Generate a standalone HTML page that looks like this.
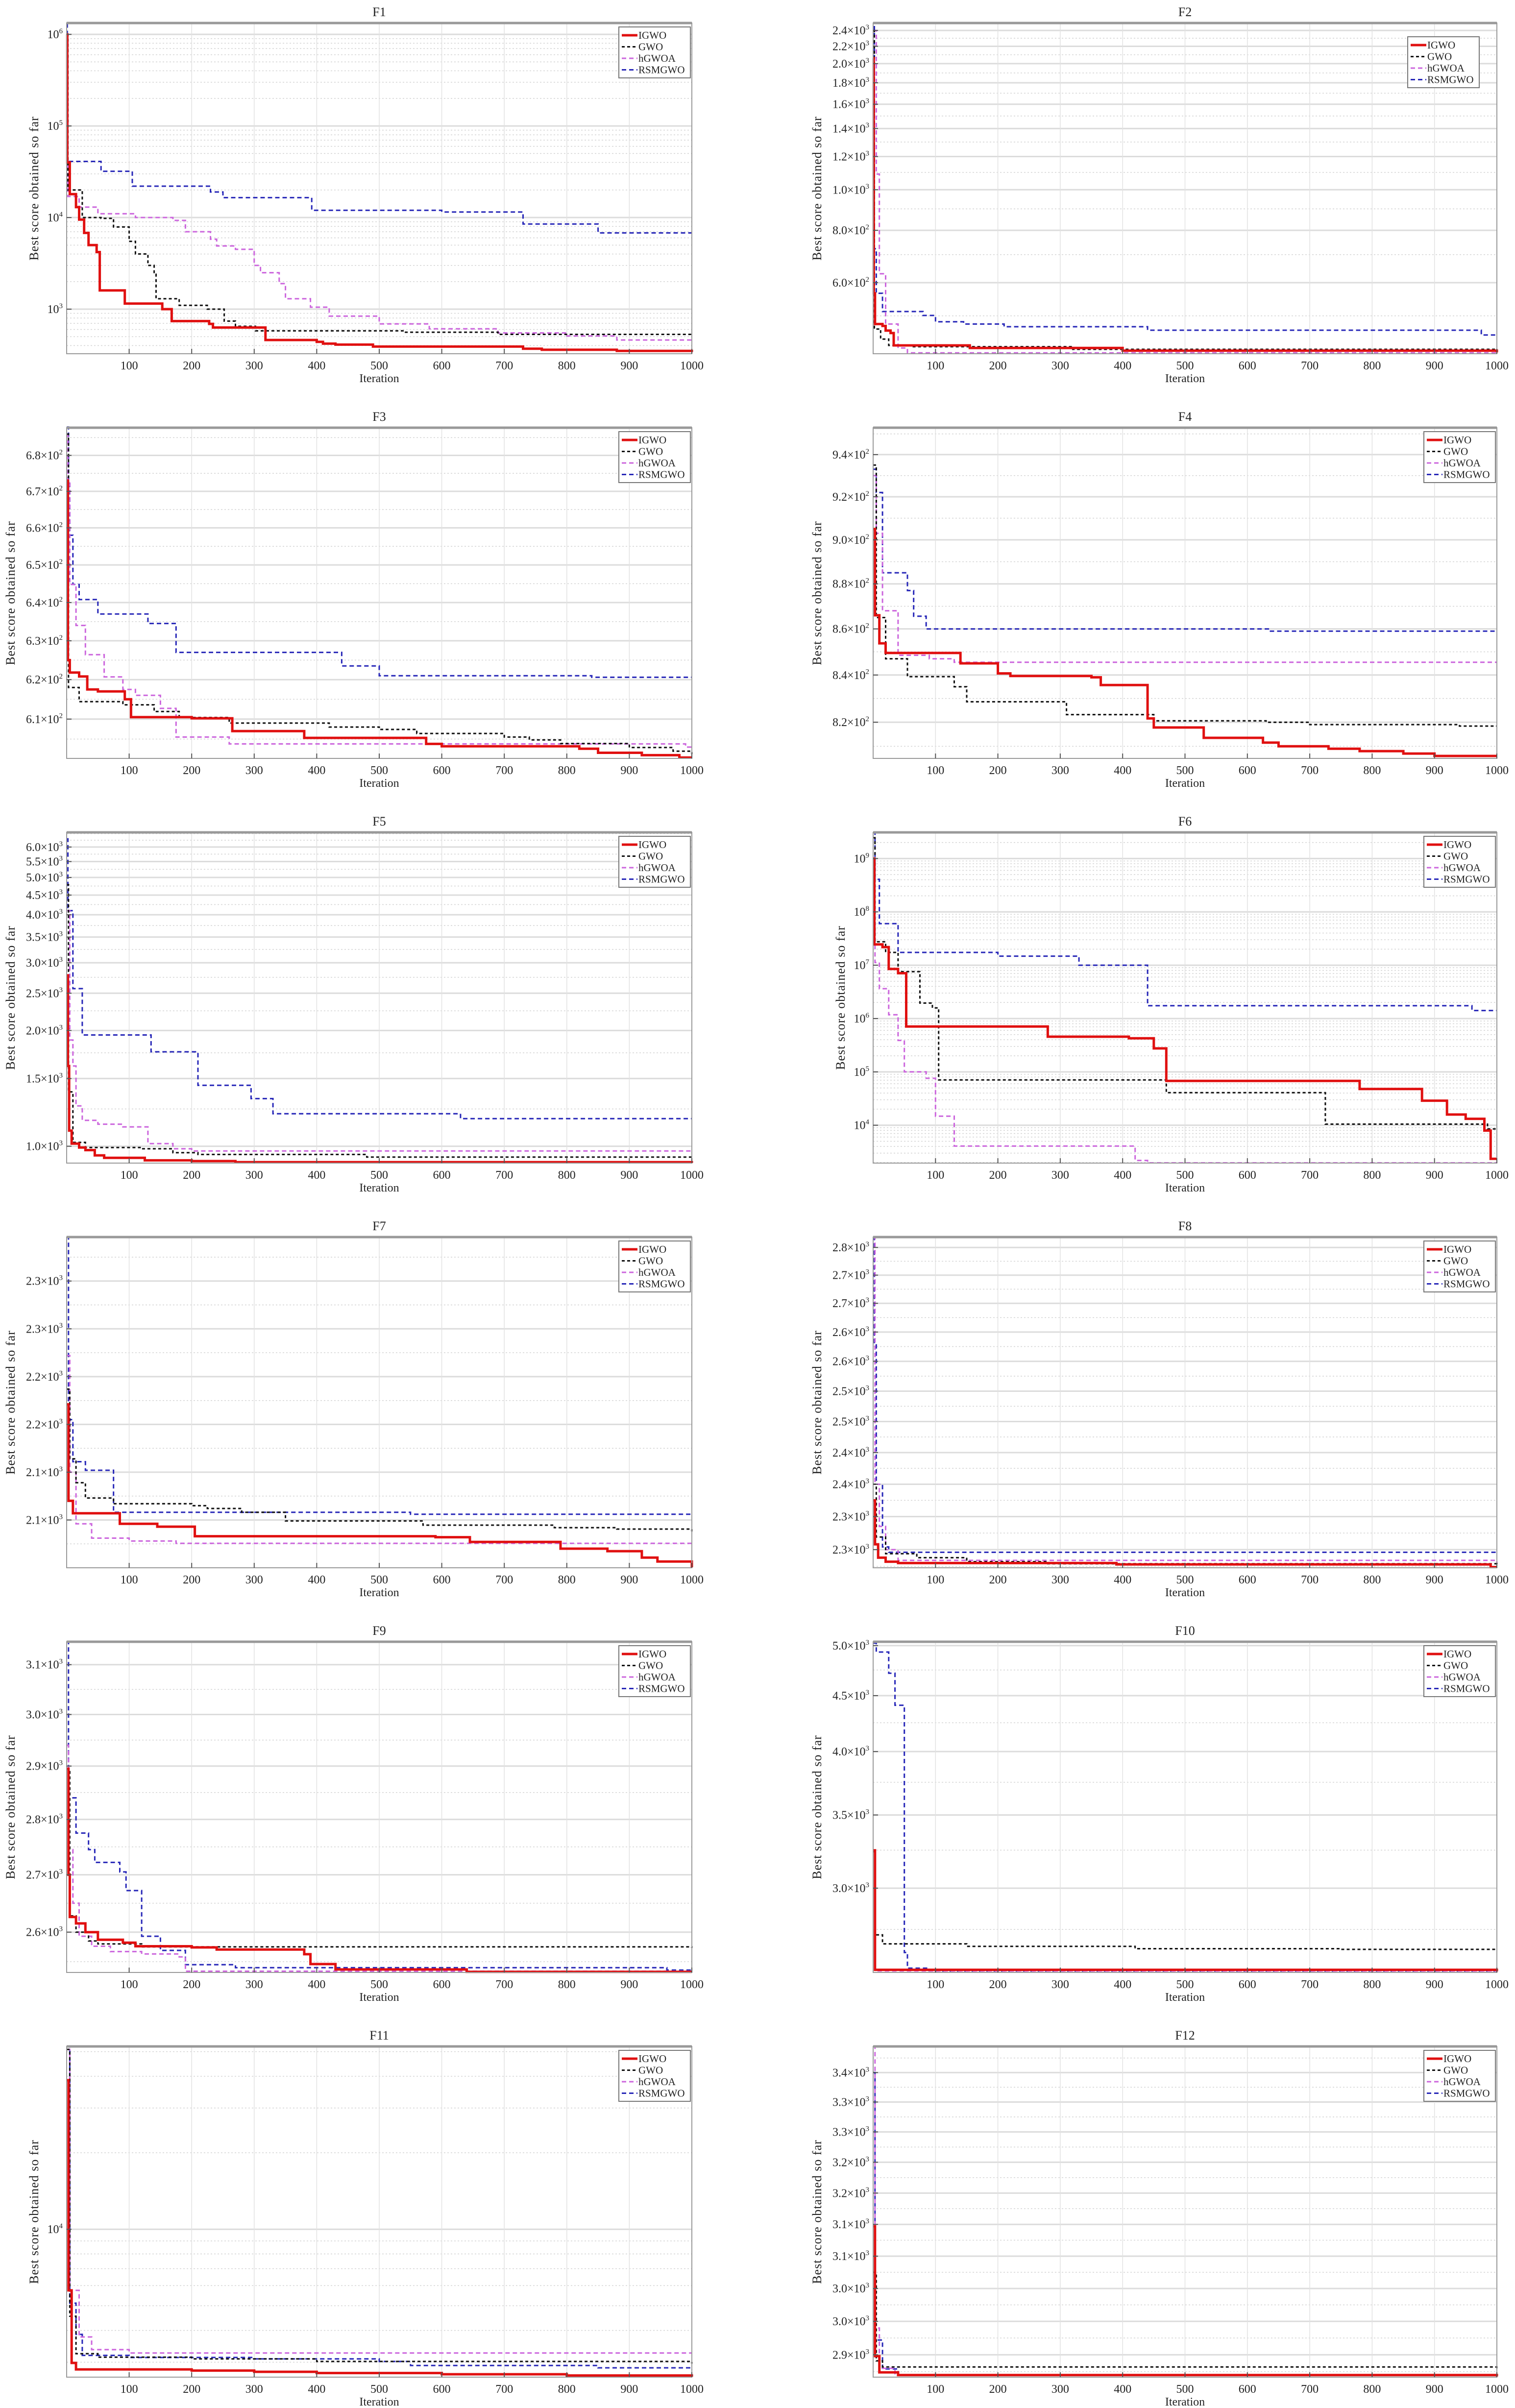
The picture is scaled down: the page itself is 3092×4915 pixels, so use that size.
<!DOCTYPE html>
<html><head><meta charset="utf-8">
<style>
html,body{margin:0;padding:0;background:#fff;}
svg{display:block;}
text{font-family:"Liberation Serif",serif;fill:#222;}
</style></head>
<body>
<svg id="fig" width="3092" height="4915" viewBox="0 0 3092 4915" xmlns="http://www.w3.org/2000/svg">
<rect width="3092" height="4915" fill="#fff"/>
</svg>
<script>
// ===== DATA =====
const seriesNames = ["IGWO","GWO","hGWOA","RSMGWO"];
const xTicks = [100,200,300,400,500,600,700,800,900,1000];

// F1
const f1Ticks = [1e3,1e4,1e5,1e6];
const f1Labels = ["10^3","10^4","10^5","10^6"];
const f1Domain = [326,1.33e6];
const f1IGWO = [[0,1e6],[1,4e4],[5,1.8e4],[15,1.3e4],[20,9.5e3],[28,6.8e3],[35,5e3],[48,4.2e3],[53,1.6e3],[93,1.15e3],[153,1.0e3],[168,740],[228,690],[234,630],[318,460],[400,440],[410,420],[430,410],[490,390],[730,370],[760,360],[880,350],[1000,340]];
const f1GWO = [[0,1e6],[2,2e4],[25,1e4],[55,9.8e3],[75,7.9e3],[100,5.5e3],[110,4e3],[130,3e3],[140,2.4e3],[143,1.3e3],[180,1.1e3],[225,1e3],[252,740],[270,650],[302,580],[540,560],[690,530],[1000,510]];
const f1HGWOA = [[0,1e6],[2,1.7e4],[20,1.3e4],[50,1.1e4],[110,1e4],[170,9.3e3],[190,7e3],[230,5.8e3],[240,4.9e3],[270,4.5e3],[300,3e3],[310,2.5e3],[340,1.9e3],[350,1.3e3],[390,1.05e3],[420,840],[500,690],[580,610],[690,550],[800,510],[880,460],[1000,440]];
const f1RSMGWO = [[0,1.3e6],[1,4.1e4],[55,3.2e4],[105,2.2e4],[230,1.9e4],[250,1.65e4],[392,1.2e4],[600,1.15e4],[730,8.5e3],[850,6.8e3],[1000,6.8e3]];

// F2
const f2Ticks = [600,800,1000,1200,1400,1600,1800,2000,2200,2400];
const f2Labels = ["6.0×10^2","8.0×10^2","1.0×10^3","1.2×10^3","1.4×10^3","1.6×10^3","1.8×10^3","2.0×10^3","2.2×10^3","2.4×10^3"];
const f2Domain = [406,2500];
const f2IGWO = [[0,2060],[1,566],[3,478],[15,473],[20,461],[28,455],[33,425],[155,419],[400,413],[1000,409]];
const f2GWO = [[0,2400],[2,465],[12,440],[25,425],[60,422],[320,416],[1000,412]];
const f2HGWOA = [[0,2400],[5,1090],[10,630],[20,478],[40,419],[55,408],[1000,408]];
const f2RSMGWO = [[0,2450],[2,723],[5,566],[15,512],[80,501],[100,484],[145,478],[210,471],[440,462],[975,450],[1000,450]];

// F3
const f3Ticks = [610,620,630,640,650,660,670,680];
const f3Labels = ["6.1×10^2","6.2×10^2","6.3×10^2","6.4×10^2","6.5×10^2","6.6×10^2","6.7×10^2","6.8×10^2"];
const f3Domain = [600.2,687.8];
const f3IGWO = [[0,673],[2,625],[5,621.8],[20,620.8],[33,617.5],[50,617],[93,615],[103,610.5],[200,610.2],[265,607],[380,605.3],[575,603.8],[600,603.2],[820,602.6],[850,601.6],[920,601],[980,600.4],[1000,600.4]];
const f3GWO = [[0,686],[3,618],[20,614.4],[90,613.6],[140,611.9],[180,610.4],[260,609],[420,608],[500,607.4],[560,606.4],[700,605.5],[740,604.8],[790,603.9],[900,602.9],[970,602],[1000,601.3]];
const f3HGWOA = [[0,686],[2,673],[5,644.8],[15,634],[30,626.4],[60,620.7],[90,617.5],[110,616],[150,612.7],[175,605.5],[260,603.8],[990,603],[1000,603]];
const f3RSMGWO = [[0,688],[3,673],[5,658],[10,644.8],[20,640.8],[50,637],[130,634.5],[175,627],[440,623.5],[500,621],[840,620.6],[1000,620.6]];

// F4
const f4Ticks = [820,840,860,880,900,920,940];
const f4Labels = ["8.2×10^2","8.4×10^2","8.6×10^2","8.8×10^2","9.0×10^2","9.2×10^2","9.4×10^2"];
const f4Domain = [805,953];
const f4IGWO = [[0,905],[3,866],[10,853.7],[20,849.5],[140,845],[200,840.7],[220,839.6],[350,839],[365,835.7],[440,821.6],[450,817.8],[530,813.5],[625,811.5],[650,810],[730,809],[780,808],[850,807],[900,806],[1000,806]];
const f4GWO = [[0,935],[5,865],[20,847],[55,839.3],[130,835],[150,828.6],[310,823.2],[450,820.6],[630,820],[700,819],[940,818.4],[1000,818.4]];
const f4HGWOA = [[0,930],[5,903],[15,868],[40,848.5],[90,847],[130,845.5],[1000,845.5]];
const f4RSMGWO = [[0,933],[5,922],[15,885],[55,877],[65,865.6],[85,860],[635,859],[1000,859]];

// F5
const f5Ticks = [1000,1500,2000,2500,3000,3500,4000,4500,5000,5500,6000];
const f5Labels = ["1.0×10^3","1.5×10^3","2.0×10^3","2.5×10^3","3.0×10^3","3.5×10^3","4.0×10^3","4.5×10^3","5.0×10^3","5.5×10^3","6.0×10^3"];
const f5Domain = [904,6550];
const f5IGWO = [[0,2783],[2,1617],[4,1098],[8,1016],[20,992],[30,977],[45,947],[60,933],[125,919],[200,915],[270,909],[1000,905]];
const f5GWO = [[0,4790],[3,1385],[10,1023],[30,992],[120,985],[170,962],[210,952],[480,937],[1000,925]];
const f5HGWOA = [[0,4100],[5,1889],[10,1617],[15,1273],[25,1168],[50,1141],[90,1123],[130,1016],[170,985],[200,972],[1000,962]];
const f5RSMGWO = [[0,6300],[2,4100],[10,2570],[25,1947],[135,1760],[210,1440],[295,1330],[330,1215],[630,1180],[1000,1180]];

// F6 (values as log10)
const f6Ticks = [1e4,1e5,1e6,1e7,1e8,1e9];
const f6Labels = ["10^4","10^5","10^6","10^7","10^8","10^9"];
const f6Domain = [Math.pow(10,3.29),Math.pow(10,9.49)];
const f6IGWO = [[0,9.0],[2,7.39],[15,7.34],[25,6.93],[40,6.85],[53,5.85],[280,5.66],[410,5.63],[450,5.44],[470,4.83],[780,4.68],[880,4.46],[920,4.20],[950,4.12],[980,3.90],[990,3.37],[1000,3.37]].map(p=>[p[0],Math.pow(10,p[1])]);
const f6GWO = [[0,9.39],[3,7.44],[20,7.24],[40,6.88],[75,6.29],[95,6.20],[105,4.85],[470,4.61],[725,4.02],[985,3.93],[1000,3.93]].map(p=>[p[0],Math.pow(10,p[1])]);
const f6HGWOA = [[0,9.0],[3,7.05],[10,6.56],[25,6.07],[40,5.59],[50,5.0],[85,4.88],[100,4.17],[130,3.61],[420,3.34],[440,3.295],[1000,3.295]].map(p=>[p[0],Math.pow(10,p[1])]);
const f6RSMGWO = [[0,9.49],[3,8.61],[10,7.78],[40,7.24],[200,7.17],[330,7.0],[440,6.24],[960,6.15],[1000,6.15]].map(p=>[p[0],Math.pow(10,p[1])]);

// F7 (linear)
const f7Ticks = [2050,2100,2150,2200,2250,2300];
const f7Labels = ["2.1×10^3","2.1×10^3","2.2×10^3","2.2×10^3","2.3×10^3","2.3×10^3"];
const f7Domain = [2000,2346];
const f7IGWO = [[0,2171],[3,2070],[10,2057],[85,2046],[145,2043],[205,2033],[590,2032],[645,2027],[790,2020],[865,2017.4],[920,2010.6],[945,2006.5],[1000,2000.5]];
const f7GWO = [[0,2187],[5,2114],[15,2089],[30,2073],[75,2067],[200,2065],[225,2062],[280,2058],[350,2049],[570,2044.6],[780,2042],[880,2040.5],[1000,2038]];
const f7HGWOA = [[0,2222],[5,2100],[15,2046],[40,2031],[100,2028],[175,2025.6],[1000,2025.6]];
const f7RSMGWO = [[0,2346],[3,2155],[10,2111],[30,2102],[75,2058],[550,2056],[1000,2056]];

// F8
const f8Ticks = [2300,2350,2400,2450,2500,2550,2600,2650,2700,2750,2800];
const f8Labels = ["2.3×10^3","2.3×10^3","2.4×10^3","2.4×10^3","2.5×10^3","2.5×10^3","2.6×10^3","2.6×10^3","2.7×10^3","2.7×10^3","2.8×10^3"];
const f8Domain = [2273,2819];
const f8IGWO = [[0,2375],[3,2308],[8,2288],[20,2282],[40,2280],[390,2278],[990,2274],[1000,2274]];
const f8GWO = [[0,2400],[5,2319],[20,2294],[70,2288],[150,2282],[280,2279],[1000,2276]];
const f8HGWOA = [[0,2819],[3,2400],[10,2335],[20,2300],[40,2284],[1000,2280]];
const f8RSMGWO = [[0,2819],[2,2632],[5,2400],[15,2304],[25,2296],[1000,2296]];

// F9
const f9Ticks = [2600,2700,2800,2900,3000,3100];
const f9Labels = ["2.6×10^3","2.7×10^3","2.8×10^3","2.9×10^3","3.0×10^3","3.1×10^3"];
const f9Domain = [2532,3147];
const f9IGWO = [[0,2895],[3,2700],[5,2626],[15,2615],[30,2600],[50,2587],[90,2582],[110,2576],[200,2574],[240,2570.5],[380,2562.6],[390,2546],[430,2537],[640,2533],[1000,2533]];
const f9GWO = [[0,2895],[5,2628],[15,2600],[35,2585],[50,2580],[120,2575],[1000,2573]];
const f9HGWOA = [[0,2940],[3,2745],[10,2650],[20,2593],[40,2576],[70,2567],[120,2563],[180,2558],[190,2534],[1000,2534]];
const f9RSMGWO = [[0,3147],[3,2840],[15,2775],[35,2745],[45,2722],[85,2705],[95,2672],[120,2593],[150,2569],[190,2545],[270,2540],[960,2536],[1000,2536]];

// F10
const f10Ticks = [3000,3500,4000,4500,5000];
const f10Labels = ["3.0×10^3","3.5×10^3","4.0×10^3","4.5×10^3","5.0×10^3"];
const f10Domain = [2512,5041];
const f10IGWO = [[0,3249],[3,2526],[1000,2518]];
const f10GWO = [[0,3240],[3,2719],[15,2668],[150,2654],[420,2641],[750,2637],[1000,2634]];
const f10HGWOA = [[0,3249],[3,2520],[1000,2516]];
const f10RSMGWO = [[0,5027],[5,4933],[25,4718],[35,4410],[50,2620],[55,2535],[90,2520],[1000,2520]];

// F11
const f11Ticks = [1e4];
const f11Labels = ["10^4"];
const f11Domain = [2620,52400];
const f11IGWO = [[0,38600],[3,5750],[8,2980],[15,2810],[200,2780],[300,2750],[400,2720],[600,2690],[800,2660],[1000,2630]];
const f11GWO = [[0,51000],[5,4550],[15,3240],[50,3140],[200,3090],[400,3020],[1000,2960]];
const f11HGWOA = [[0,51000],[5,5750],[20,3770],[40,3360],[100,3260],[1000,3260]];
const f11RSMGWO = [[0,52400],[5,5120],[15,3860],[25,3190],[100,3130],[300,3090],[500,3020],[550,2910],[850,2850],[1000,2810]];

// F12
const f12Ticks = [2950,3000,3050,3100,3150,3200,3250,3300,3350,3400];
const f12Labels = ["2.9×10^3","3.0×10^3","3.0×10^3","3.1×10^3","3.1×10^3","3.2×10^3","3.2×10^3","3.3×10^3","3.3×10^3","3.4×10^3"];
const f12Domain = [2917,3445];
const f12IGWO = [[0,3147],[3,2948],[10,2924],[40,2920],[1000,2918]];
const f12GWO = [[0,3075],[5,2941],[15,2932],[1000,2929]];
const f12HGWOA = [[0,3445],[3,2990],[10,2930],[35,2920],[1000,2919]];
const f12RSMGWO = [[0,3400],[3,2972],[15,2929],[40,2920],[1000,2920]];

const panelTitles = ["F1","F2","F3","F4","F5","F6","F7","F8","F9","F10","F11","F12"];
const panelScales = ["log","log","log","log","log","log","linear","log","log","log","log","log"];
const panelTicks = [f1Ticks,f2Ticks,f3Ticks,f4Ticks,f5Ticks,f6Ticks,f7Ticks,f8Ticks,f9Ticks,f10Ticks,f11Ticks,f12Ticks];
const panelLabels = [f1Labels,f2Labels,f3Labels,f4Labels,f5Labels,f6Labels,f7Labels,f8Labels,f9Labels,f10Labels,f11Labels,f12Labels];
const panelDomains = [f1Domain,f2Domain,f3Domain,f4Domain,f5Domain,f6Domain,f7Domain,f8Domain,f9Domain,f10Domain,f11Domain,f12Domain];
const panelSeries = [
 [f1IGWO,f1GWO,f1HGWOA,f1RSMGWO],[f2IGWO,f2GWO,f2HGWOA,f2RSMGWO],
 [f3IGWO,f3GWO,f3HGWOA,f3RSMGWO],[f4IGWO,f4GWO,f4HGWOA,f4RSMGWO],
 [f5IGWO,f5GWO,f5HGWOA,f5RSMGWO],[f6IGWO,f6GWO,f6HGWOA,f6RSMGWO],
 [f7IGWO,f7GWO,f7HGWOA,f7RSMGWO],[f8IGWO,f8GWO,f8HGWOA,f8RSMGWO],
 [f9IGWO,f9GWO,f9HGWOA,f9RSMGWO],[f10IGWO,f10GWO,f10HGWOA,f10RSMGWO],
 [f11IGWO,f11GWO,f11HGWOA,f11RSMGWO],[f12IGWO,f12GWO,f12HGWOA,f12RSMGWO]];

// ===== RENDER =====
const NS="http://www.w3.org/2000/svg";
const svg=document.getElementById("fig");
function mk(tag,attrs,parent){const e=document.createElementNS(NS,tag);for(const k in attrs)e.setAttribute(k,attrs[k]);(parent||svg).appendChild(e);return e;}
const styles=[
 {stroke:"#e01010",w:5,dash:""},
 {stroke:"#111",w:3,dash:"6 5"},
 {stroke:"#cc66dd",w:3,dash:"9 6"},
 {stroke:"#2828b8",w:3,dash:"9 6"}];

function addLabel(g,x,y,str,anchor,size){
  const t=mk("text",{x:x,y:y,"text-anchor":anchor,"font-size":size},g);
  const parts=str.split("^");
  t.appendChild(document.createTextNode(parts[0]));
  if(parts.length>1){const s=mk("tspan",{"font-size":Math.round(size*0.62),dy:-size*0.42},t);s.textContent=parts[1];}
  return t;
}

for(let i=0;i<12;i++){
  const col=i%2,row=Math.floor(i/2);
  const x0=col?1782:136,x1=col?3055:1412,y0=47+826*row,y1=722+826*row;
  const g=mk("g",{});
  
  
  const dom=panelDomains[i],isLog=panelScales[i]==="log";
  const xs=it=>x0+it/1000*(x1-x0);
  const ys=v=>{
    if(isLog){const a=Math.log10(dom[0]),b=Math.log10(dom[1]);return y1-(Math.log10(v)-a)/(b-a)*(y1-y0);}
    return y1-(v-dom[0])/(dom[1]-dom[0])*(y1-y0);};
  mk("rect",{x:x0,y:y0,width:x1-x0,height:y1-y0,fill:"#fff"},g);
  // minor grid
  const ticks=panelTicks[i];
  const minors=[];
  if(isLog && dom[1]/dom[0]>10){
    for(let e=Math.floor(Math.log10(dom[0]));e<=Math.ceil(Math.log10(dom[1]));e++)
      for(let m=2;m<10;m++){const v=m*Math.pow(10,e);if(v>dom[0]&&v<dom[1])minors.push(v);}
  } else {
    const st=ticks.length>1?(ticks[1]-ticks[0])/2:50;
    for(let v=ticks[0]-st*4;v<dom[1];v+=st){if(v>dom[0]&&ticks.indexOf(v)<0)minors.push(v);}
  }
  minors.forEach(v=>mk("line",{x1:x0,x2:x1,y1:ys(v),y2:ys(v),stroke:"#d4d4d4","stroke-width":1.5,"stroke-dasharray":"3 4"},g));
  ticks.forEach(v=>mk("line",{x1:x0,x2:x1,y1:ys(v),y2:ys(v),stroke:"#dcdcdc","stroke-width":3},g));
  xTicks.forEach(t=>mk("line",{x1:xs(t),x2:xs(t),y1:y0,y2:y1,stroke:"#e2e2e2","stroke-width":1.5},g));
  // series
  const sg=mk("g",{},g);
  
  
  for(let s=3;s>=0;s--){
    const pts=panelSeries[i][s];
    let d="M"+xs(pts[0][0]).toFixed(1)+","+ys(pts[0][1]).toFixed(1);
    for(let k=1;k<pts.length;k++){d+="H"+xs(pts[k][0]).toFixed(1)+"V"+ys(pts[k][1]).toFixed(1);}
    d+="H"+xs(1000).toFixed(1);
    const p=mk("path",{d:d,fill:"none",stroke:styles[s].stroke,"stroke-width":styles[s].w,"stroke-dasharray":styles[s].dash},sg);
    
    
  }
  // axes box
  mk("rect",{x:x0,y:y0,width:x1-x0,height:y1-y0,fill:"none",stroke:"#9a9a9a","stroke-width":2},g);
  mk("line",{x1:x0,x2:x1,y1:y0,y2:y0,stroke:"#999","stroke-width":5},g);
  // y tick labels
  const yl=mk("g",{},g);
  
  
  let hasX=false;
  ticks.forEach((v,k)=>{const lab=panelLabels[i][k];if(lab.indexOf("×")>=0)hasX=true;
    mk("line",{x1:x0,x2:x0+10,y1:ys(v),y2:ys(v),stroke:"#555","stroke-width":2},g);
    addLabel(yl,x0-8,ys(v)+8,lab,"end",24);});
  // x tick labels
  const xl=mk("g",{},g);
  
  
  xTicks.forEach(t=>{mk("line",{x1:xs(t),x2:xs(t),y1:y1,y2:y1-10,stroke:"#555","stroke-width":2},g);
    const tt=mk("text",{x:xs(t),y:y1+32,"text-anchor":"middle","font-size":24},xl);tt.textContent=t;});
  // title
  const ti=mk("text",{x:(x0+x1)/2,y:y0-14,"text-anchor":"middle","font-size":26},g);
  ti.textContent=panelTitles[i];
  
  
  const xt=mk("text",{x:(x0+x1)/2,y:y1+58,"text-anchor":"middle","font-size":24},g);
  xt.textContent="Iteration";
  
  
  const lx=x0-(hasX?106:58),ly=(y0+y1)/2;
  const yt=mk("text",{x:lx,y:ly,"text-anchor":"middle","font-size":26,transform:"rotate(-90 "+lx+" "+ly+")","letter-spacing":"1"},g);
  yt.textContent="Best score obtained so far";
  
  
  // legend
  const lw=146,lh=104;
  const lgx=(i===1)?x1-182:x1-lw-3, lgy=(i===1)?y0+28:y0+8;
  const lg=mk("g",{},g);
  
  
  mk("rect",{x:lgx,y:lgy,width:lw,height:lh,fill:"#fff",stroke:"#777","stroke-width":2},lg);
  seriesNames.forEach((n,s)=>{
    const ey=lgy+17+s*23.5;
    const le=mk("g",{},lg);
    
    
    mk("line",{x1:lgx+6,x2:lgx+38,y1:ey,y2:ey,stroke:styles[s].stroke,"stroke-width":styles[s].w,"stroke-dasharray":styles[s].dash},le);
    const t=mk("text",{x:lgx+40,y:ey+7,"font-size":21},le);t.textContent=n;
  });
}
</script>
</body></html>
